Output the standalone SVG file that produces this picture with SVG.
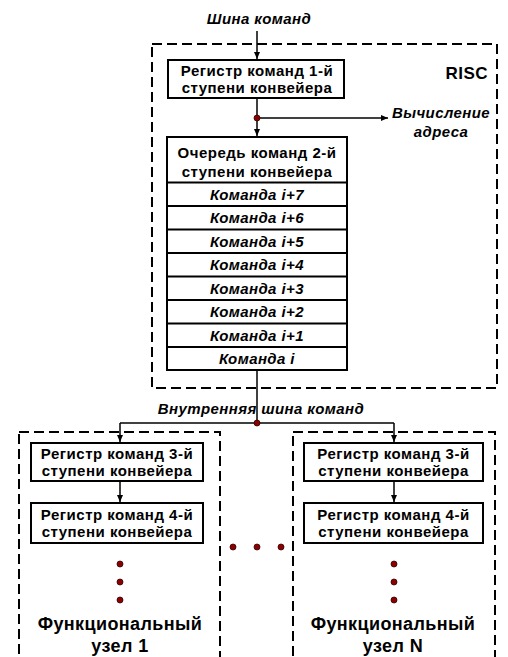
<svg xmlns="http://www.w3.org/2000/svg" width="508" height="657" viewBox="0 0 508 657">
<defs>
<marker id="ah" markerWidth="8" markerHeight="8" refX="7" refY="4" orient="auto" markerUnits="userSpaceOnUse">
<path d="M0,1 L7,4 L0,7 Z" fill="#000"/>
</marker>
<style>
.t{font-family:"Liberation Sans",Arial,sans-serif;font-weight:bold;font-size:15px;letter-spacing:0.5px;text-anchor:middle;fill:#000}
.i{font-style:italic;letter-spacing:0.4px}
.box{fill:#fff;stroke:#000;stroke-width:2}
.dash{fill:none;stroke:#000;stroke-width:2;stroke-dasharray:10 5}
.ln{fill:none;stroke:#000;stroke-width:1.5}
.dot{fill:#8b0000;stroke:#300;stroke-width:0.8}
.big{font-size:18px;letter-spacing:0.4px}
.risc{font-size:17px;letter-spacing:0.5px;text-anchor:end}
</style>
</defs>
<rect width="508" height="657" fill="#fff"/>

<g id="risc">
<rect class="dash" x="152" y="44" width="345" height="344"/>
<text class="t risc" x="488" y="79">RISC</text>
</g>

<g id="fu1">
<rect class="dash" x="19" y="432" width="201" height="240"/>
</g>
<g id="fuN">
<rect class="dash" x="293" y="432" width="202" height="240"/>
</g>

<g id="connectors">
<line class="ln" x1="257" y1="31" x2="257" y2="59" marker-end="url(#ah)"/>
<line class="ln" x1="257" y1="98" x2="257" y2="136" marker-end="url(#ah)"/>
<line class="ln" x1="257" y1="118" x2="388" y2="118" marker-end="url(#ah)"/>
<line class="ln" x1="257" y1="370" x2="257" y2="423"/>
<polyline class="ln" points="120,423 394,423"/>
<line class="ln" x1="120" y1="423" x2="120" y2="442" marker-end="url(#ah)"/>
<line class="ln" x1="394" y1="423" x2="394" y2="442" marker-end="url(#ah)"/>
<line class="ln" x1="120" y1="481" x2="120" y2="502" marker-end="url(#ah)"/>
<line class="ln" x1="394" y1="481" x2="394" y2="502" marker-end="url(#ah)"/>
<circle class="dot" cx="257" cy="118" r="3"/>
<circle class="dot" cx="257" cy="423" r="3"/>
</g>

<g id="label-bus">
<text class="t i" x="259" y="24">Шина команд</text>
</g>
<g id="label-addr">
<text class="t i" x="441" y="118">Вычисление</text>
<text class="t i" x="441" y="137">адреса</text>
</g>
<g id="label-inner">
<text class="t i" x="261" y="414">Внутренняя шина команд</text>
</g>

<g id="reg1">
<rect class="box" x="168" y="60" width="176" height="38"/>
<text class="t" x="257" y="76">Регистр команд 1-й</text>
<text class="t" x="257" y="93">ступени конвейера</text>
</g>

<g id="queue">
<rect class="box" x="167" y="137" width="180" height="233"/>
<text class="t" x="257" y="158">Очередь команд 2-й</text>
<text class="t" x="257" y="177">ступени конвейера</text>
<path class="ln" style="stroke-width:2" d="M167,182.5H347M167,206H347M167,229.5H347M167,253H347M167,276.5H347M167,300H347M167,323.5H347M167,347H347"/>
<text class="t i" x="257" y="199.5">Команда i+7</text>
<text class="t i" x="257" y="223">Команда i+6</text>
<text class="t i" x="257" y="246.5">Команда i+5</text>
<text class="t i" x="257" y="270">Команда i+4</text>
<text class="t i" x="257" y="293.5">Команда i+3</text>
<text class="t i" x="257" y="317">Команда i+2</text>
<text class="t i" x="257" y="340.5">Команда i+1</text>
<text class="t i" x="257" y="364">Команда i</text>
</g>

<g id="reg3-1">
<rect class="box" x="31" y="443" width="172" height="38"/>
<text class="t" x="117" y="459">Регистр команд 3-й</text>
<text class="t" x="117" y="476">ступени конвейера</text>
</g>
<g id="reg4-1">
<rect class="box" x="31" y="503" width="172" height="40"/>
<text class="t" x="117" y="520">Регистр команд 4-й</text>
<text class="t" x="117" y="537">ступени конвейера</text>
</g>
<g id="reg3-N">
<rect class="box" x="304" y="443" width="179" height="38"/>
<text class="t" x="393.5" y="459">Регистр команд 3-й</text>
<text class="t" x="393.5" y="476">ступени конвейера</text>
</g>
<g id="reg4-N">
<rect class="box" x="304" y="503" width="179" height="40"/>
<text class="t" x="393.5" y="520">Регистр команд 4-й</text>
<text class="t" x="393.5" y="537">ступени конвейера</text>
</g>

<g id="dots">
<circle class="dot" cx="120" cy="564" r="3"/>
<circle class="dot" cx="120" cy="582" r="3"/>
<circle class="dot" cx="120" cy="600" r="3"/>
<circle class="dot" cx="394" cy="564" r="3"/>
<circle class="dot" cx="394" cy="582" r="3"/>
<circle class="dot" cx="394" cy="600" r="3"/>
<circle class="dot" cx="233" cy="547" r="3"/>
<circle class="dot" cx="257" cy="547" r="3"/>
<circle class="dot" cx="281" cy="547" r="3"/>
</g>

<g id="fu1-label">
<text class="t big" x="120" y="630">Функциональный</text>
<text class="t big" x="120" y="652">узел 1</text>
</g>
<g id="fuN-label">
<text class="t big" x="393" y="630">Функциональный</text>
<text class="t big" x="393" y="652">узел N</text>
</g>
</svg>
